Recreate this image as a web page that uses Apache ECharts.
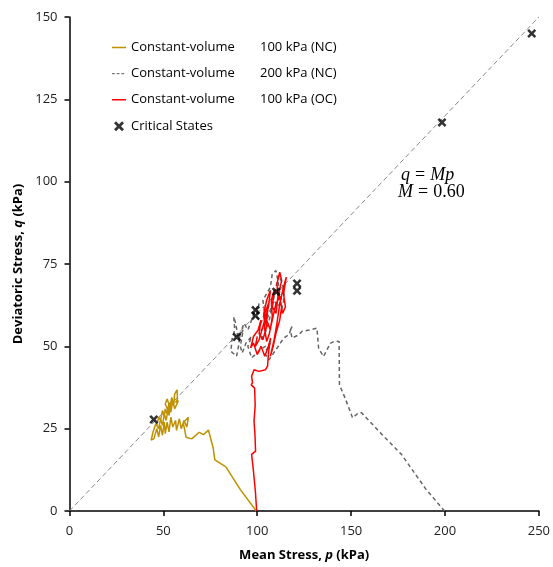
<!DOCTYPE html>
<html>
<head>
<meta charset="utf-8">
<script src="https://cdn.jsdelivr.net/npm/echarts@6/dist/echarts.min.js"></script>
<style>
html,body{margin:0;padding:0;background:#fff;}
#chart{width:553px;height:567px;}
</style>
</head>
<body>
<div id="chart"></div>
<script>
// Data (p, q) in kPa
const xTicks = [0, 50, 100, 150, 200, 250];
const yTicks = [0, 25, 50, 75, 100, 125, 150];

const criticalStates = [
  [44.9, 27.8], [89.1, 52.8], [99.1, 59.3], [99.1, 61.0], [110.1, 66.6],
  [121.2, 66.9], [121.2, 69.1], [198.4, 118.0], [246.2, 145.0]
];

const csl = [[0, 0], [250, 150]];

const nc100 = [
  [99.5,0],[91,6.5],[83.3,13.4],[77.4,15.5],[76.5,19.2],[74,24.6],[71.4,23.2],[69.1,23.9],
  [65.1,21.9],[62.1,22.4],[60.6,26.8],[63.3,28.5],[62.5,25.5],[61,27.5],[59.5,25],[58.5,28],
  [57,24.5],[56.5,27.5],[55,25.5],[54,28.5],[53,24],[52,27],[51,23.5],[50.5,27],[49.5,23],
  [48.5,26],[47.5,22.5],[46.5,25],[45,22],[43.5,21.5],[42.5,22],[44.5,24],[46,26.5],
  [47.5,25],[48.5,28],[49.5,26],[50.5,29.5],[51.5,27.5],[52.5,31],[53,29],[54,32],
  [52.5,30.5],[51,32.5],[52,34],[53.5,31.5],[54.5,34.5],[55.5,32],[56,35.5],[57.3,36.8],
  [57.5,34],[56.5,33],[58,33.5],[56,31],[55,33.5],[54,30],[53,33],[52,29.5],[51,31],
  [50.5,28.5],[49.5,30.5],[48.5,27.5],[47.5,28.5],[46.5,26]
];

const nc200 = [
  [199.8,0],[190,6.5],[176.8,17.2],[166,23.5],[155.6,29.8],[153.9,29.8],[150.8,28.3],
  [147,34],[143.8,38.3],[143.6,51.5],[141.5,51.6],[138.9,50.9],[135.3,46.9],[132.7,49.4],
  [131.8,55.5],[128.3,55],[123.8,54.5],[122.1,53.5],[118.5,52.5],[117.7,55],[118.5,56],
  [116.8,53.5],[114.1,52.5],[110,49],[106.2,45.9],[105.3,45.4],[104,48],[107,51],
  [103,49.5],[100,48],[97,46.5],[95,50],[97,53],[94,51],[92,48],[91,50],[92.5,55],[90,52],
  [88.5,57],[87.5,59],[88,55],[86.5,52],[86,48.5],[89,47],[90,50],[91,54],[93,57],[95,55],
  [97,58],[99,61],[101,63],[99.5,59],[102,57],[104,60],[103,64],[105,66],[107,68],[108,72],
  [110,73],[111,70],[112,66],[113,64],[111,62],[109,64],[107,61],[105,58],[103.5,56],
  [101,54],[102,52],[104.5,54.5],[106,57],[108,62],[109.5,67],[111.5,71.5],[113.5,69],
  [114.5,65],[112.5,60]
];

const oc100 = [
  [99.7,0],[99,6],[98,12],[97,17.2],[99.1,18.2],[98.8,23],[98.3,27.3],[98.9,32],[98.6,37.3],
  [96.8,38.3],[97.5,39],[97,40.9],[98.3,42.9],[100.9,42.4],[104.4,42.9],[105.5,44],[106,48],
  [107.1,52.5],[106,50],[104,47],[102,50],[100,47.5],[98,51],[96.5,49.5],[98,53],[100.5,55],
  [102,58],[101,54],[103,52],[105,56],[104,60],[106,63],[105,58],[107,55],[108,59],[107.5,64],
  [109,67],[108,62],[110,60],[111,65],[110.5,69],[112,72.5],[113,70],[111.5,66],[113,62],
  [112,58],[110,54],[108.5,50],[107,47],[109,52],[110.5,57],[112,63],[114,68],[115.5,71],
  [114,66],[115,62],[113.5,60],[112,65],[110,63],[108,58],[106.5,54],[105,51.5],[104,55],
  [103.5,60],[105,64],[107,67],[106,62],[104,58],[102.5,55],[101,52],[99,50],[100,53]
];

const legendNames = [
  'Constant-volume|100 kPa (NC)',
  'Constant-volume|200 kPa (NC)',
  'Constant-volume|100 kPa (OC)',
  'Critical States'
];

const xSymbol = 'path://M0,2 L2,0 L5,3 L8,0 L10,2 L7,5 L10,8 L8,10 L5,7 L2,10 L0,8 L3,5 Z';
// legend icons: a thin horizontal line inside a 15x14 box (tiny corner dots fix the box)
const solidIcon = 'path://M0,0 L0.05,0 L0.05,0.05 Z M0,6.2 L15,6.2 L15,7.8 L0,7.8 Z M15,14 L14.95,14 L14.95,13.95 Z';
const dashIcon = 'path://M0,0 L0.05,0 L0.05,0.05 Z M0,6.4 L3,6.4 L3,7.6 L0,7.6 Z M5,6.4 L8,6.4 L8,7.6 L5,7.6 Z M10,6.4 L13,6.4 L13,7.6 L10,7.6 Z M15,14 L14.95,14 L14.95,13.95 Z';
const xIcon = 'path://M-2,-2 L-1.99,-2 L-1.99,-1.99 Z M0,2 L2,0 L5,3 L8,0 L10,2 L7,5 L10,8 L8,10 L5,7 L2,10 L0,8 L3,5 Z M12,12 L11.99,12 L11.99,11.99 Z';
const FONT = 'Open Sans';

const chart = echarts.init(document.getElementById('chart'), null, {renderer: 'canvas'});
chart.setOption({
  animation: false,
  backgroundColor: '#fff',
  textStyle: {fontFamily: FONT},
  grid: {left: 69.5, right: 12, top: 17, bottom: 53.5, containLabel: false},
  legend: {
    orient: 'vertical',
    left: 107,
    top: 36,
    itemWidth: 14,
    itemHeight: 14,
    itemGap: 13,
    textStyle: {
      fontFamily: FONT, fontSize: 13, color: '#000',
      rich: {
        a: {fontFamily: FONT, fontSize: 13, color: '#000', width: 129},
        b: {fontFamily: FONT, fontSize: 13, color: '#000'}
      }
    },
    formatter: function (name) {
      const parts = name.split('|');
      if (parts.length === 2) return '{a|' + parts[0] + '}{b|' + parts[1] + '}';
      return name;
    },
    data: [
      {name: legendNames[0], icon: solidIcon, itemStyle: {color: '#BF9000', borderWidth: 0}},
      {name: legendNames[1], icon: dashIcon, itemStyle: {color: '#777', borderWidth: 0}},
      {name: legendNames[2], icon: solidIcon, itemStyle: {color: '#FF0000', borderWidth: 0}},
      {name: legendNames[3], icon: xIcon, itemStyle: {color: '#000', borderWidth: 0}}
    ]
  },
  xAxis: {
    type: 'value', min: 0, max: 250, interval: 50,
    name: 'Mean Stress, {i|p} (kPa)',
    nameLocation: 'middle', nameGap: 38,
    nameTextStyle: {
      fontFamily: FONT, fontSize: 13, fontWeight: 'bold', color: '#000',
      rich: {i: {fontFamily: FONT, fontSize: 13, fontWeight: 'bold', fontStyle: 'italic', color: '#000'}}
    },
    axisLine: {show: true, onZero: false, lineStyle: {color: '#000', width: 1.5}},
    axisTick: {show: true, inside: false, length: 5, lineStyle: {color: '#000', width: 1.5}},
    axisLabel: {fontFamily: FONT, fontSize: 13, color: '#222', margin: 14},
    splitLine: {show: false}
  },
  yAxis: {
    type: 'value', min: 0, max: 150, interval: 25,
    name: 'Deviatoric Stress, {i|q} (kPa)',
    nameLocation: 'middle', nameGap: 40,
    nameTextStyle: {
      fontFamily: FONT, fontSize: 13, fontWeight: 'bold', color: '#000',
      rich: {i: {fontFamily: FONT, fontSize: 13, fontWeight: 'bold', fontStyle: 'italic', color: '#000'}}
    },
    axisLine: {show: true, onZero: false, lineStyle: {color: '#000', width: 1.5}},
    axisTick: {show: true, inside: false, length: 5, lineStyle: {color: '#000', width: 1.5}},
    axisLabel: {fontFamily: FONT, fontSize: 13, color: '#222', margin: 12},
    splitLine: {show: false}
  },
  graphic: [
    {
      type: 'text', left: 401, top: 166, z: 100,
      style: {
        text: '{i|q}{e|=}{i|Mp}',
        fontFamily: 'Liberation Serif', fontSize: 18, fill: '#000',
        rich: {
          i: {fontFamily: 'Liberation Serif', fontStyle: 'italic', fontSize: 18, fill: '#000'},
          e: {fontFamily: 'Liberation Serif', fontSize: 18, fill: '#000', padding: [0, 5]}
        }
      }
    },
    {
      type: 'text', left: 398, top: 183, z: 100,
      style: {
        text: '{i|M}{e|=}0.60',
        fontFamily: 'Liberation Serif', fontSize: 18, fill: '#000',
        rich: {
          i: {fontFamily: 'Liberation Serif', fontStyle: 'italic', fontSize: 18, fill: '#000'},
          e: {fontFamily: 'Liberation Serif', fontSize: 18, fill: '#000', padding: [0, 5]}
        }
      }
    }
  ],
  series: [
    {
      name: 'CSL', type: 'line', data: csl, symbol: 'none', silent: true,
      lineStyle: {color: '#888', width: 1, type: [5, 3]}, z: 1
    },
    {
      name: legendNames[0], type: 'line', data: nc100, symbol: 'none',
      color: '#BF9000',
      lineStyle: {color: '#BF9000', width: 1.5}, z: 2
    },
    {
      name: legendNames[1], type: 'line', data: nc200, symbol: 'none',
      color: '#666',
      lineStyle: {color: '#666', width: 1.5, type: [4, 3]}, z: 2
    },
    {
      name: legendNames[2], type: 'line', data: oc100, symbol: 'none',
      color: '#FF0000',
      lineStyle: {color: '#FF0000', width: 1.5}, z: 3
    },
    {
      name: legendNames[3], type: 'scatter', data: criticalStates,
      symbol: xSymbol, symbolSize: 9,
      itemStyle: {color: '#000'}, z: 5
    }
  ]
});
</script>
</body>
</html>
